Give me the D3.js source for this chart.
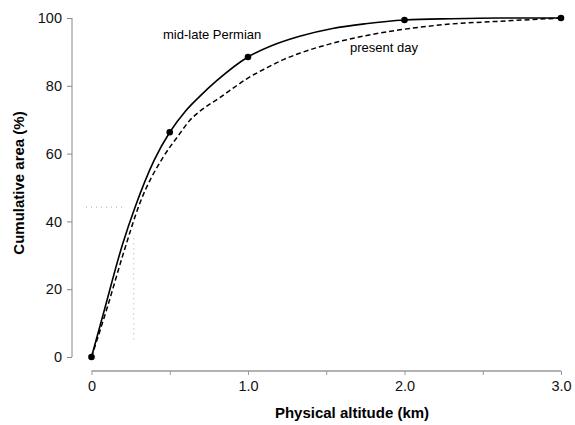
<!DOCTYPE html>
<html><head><meta charset="utf-8">
<script src="https://cdn.jsdelivr.net/npm/d3@7"></script>
<style>body{margin:0;background:#fff}svg{display:block}text{font-family:"Liberation Sans",Arial,sans-serif}</style>
</head><body><svg id="c" width="575" height="425"></svg>
<script>
// Permian fitted curve (km, cumulative %)
const permianX = [0, 0.08, 0.2, 0.28, 0.4, 0.5, 0.6, 0.69, 0.8, 1.0, 1.15, 1.33, 1.54, 1.75, 2.0, 2.3, 2.6, 3.0];
const permianY = [0, 13.5, 33.5, 44.4, 58, 66.3, 72.5, 76.8, 81.5, 88.5, 91.8, 94.6, 96.9, 98.3, 99.4, 99.8, 100.0, 100];
// Permian data points
const pointX = [0, 0.5, 1.0, 2.0, 3.0];
const pointY = [0, 66.3, 88.5, 99.4, 100];
// Present-day curve
const presentX = [0, 0.1, 0.2, 0.31, 0.46, 0.55, 0.63, 0.69, 0.82, 0.905, 0.99, 1.12, 1.23, 1.33, 1.52, 1.65, 1.97, 2.29, 2.59, 3.0];
const presentY = [0, 14.5, 30, 45.5, 59.1, 65, 69.9, 72.4, 76.5, 79.3, 82.0, 85.3, 87.8, 89.6, 92.3, 93.8, 96.5, 98.2, 99.0, 100];
// Axis ticks
const xTicks = [0, 0.5, 1.0, 1.5, 2.0, 2.5, 3.0];
const xTickLabels = ["0", "", "1.0", "", "2.0", "", "3.0"];
const yTicks = [0, 20, 40, 60, 80, 100];
// faint dotted guides
const guideH = {x: [-0.035, 0.2], y: [44.2, 44.2]};
const guideV = {x: [0.27, 0.27], y: [35, 5]};

const svg = d3.select("#c");
const x = d3.scaleLinear().domain([0, 3]).range([91.5, 561]);
const y = d3.scaleLinear().domain([0, 100]).range([357, 18]);

// y axis
const ya = svg.append("g").attr("transform", "translate(72,0)")
  .call(d3.axisLeft(y).tickValues(yTicks).tickSize(5).tickPadding(5).tickFormat(d3.format("d")));
ya.select(".domain").attr("stroke", "#888").attr("d", `M0,${y(100)}V${y(0)}`);
ya.selectAll(".tick line").attr("stroke", "#888");
ya.selectAll(".tick text").attr("font-size", 14.5).attr("fill", "#111").attr("font-family", "Liberation Sans, Arial, sans-serif");

// x axis
const xa = svg.append("g").attr("transform", "translate(0,371)")
  .call(d3.axisBottom(x).tickValues(xTicks).tickSize(4).tickPadding(6).tickFormat((d, i) => xTickLabels[i]));
xa.select(".domain").attr("stroke", "#999").attr("stroke-width", 1.5).attr("d", `M${x(0)},0H${x(3)}`);
xa.selectAll(".tick line").attr("stroke", "#999");
xa.selectAll(".tick text").attr("font-size", 14.5).attr("fill", "#111").attr("font-family", "Liberation Sans, Arial, sans-serif");

// guides
const g = svg.append("g").attr("stroke", "#aaa").attr("stroke-width", 1).attr("stroke-dasharray", "1,4").attr("fill", "none");
[guideH, guideV].forEach(gd => {
  g.append("line").attr("x1", x(gd.x[0])).attr("x2", x(gd.x[1])).attr("y1", y(gd.y[0])).attr("y2", y(gd.y[1]));
});

const line = d3.line().x(d => x(d[0])).y(d => y(d[1])).curve(d3.curveMonotoneX);
svg.append("path").datum(presentX.map((v, i) => [v, presentY[i]]))
  .attr("d", line).attr("fill", "none").attr("stroke", "#000").attr("stroke-width", 1.5).attr("stroke-dasharray", "5,3");
svg.append("path").datum(permianX.map((v, i) => [v, permianY[i]]))
  .attr("d", line).attr("fill", "none").attr("stroke", "#000").attr("stroke-width", 1.6);

svg.selectAll("circle.pt").data(pointX.map((v, i) => [v, pointY[i]])).enter().append("circle")
  .attr("cx", d => x(d[0])).attr("cy", d => y(d[1])).attr("r", 3.3).attr("fill", "#000");

svg.append("text").attr("x", 163).attr("y", 39).attr("font-size", 13).text("mid-late Permian");
svg.append("text").attr("x", 350).attr("y", 52).attr("font-size", 13).text("present day");

svg.append("text").attr("x", 352).attr("y", 418).attr("text-anchor", "middle")
  .attr("font-size", 15).attr("font-weight", "bold").text("Physical altitude (km)");
svg.append("text").attr("transform", "translate(24,183) rotate(-90)").attr("text-anchor", "middle")
  .attr("font-size", 15).attr("font-weight", "bold").text("Cumulative area (%)");
</script></body></html>
